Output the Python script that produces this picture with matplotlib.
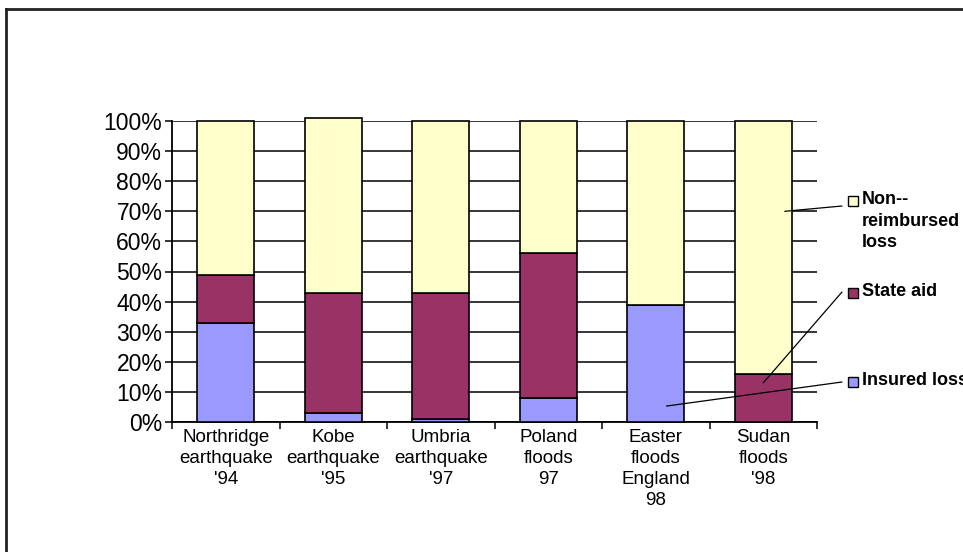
import matplotlib
matplotlib.use("Agg")
import matplotlib.pyplot as plt
import numpy as np
from matplotlib.lines import Line2D

categories = ["Northridge\nearthquake\n'94", "Kobe\nearthquake\n'95", "Umbria\nearthquake\n'97",
              "Poland\nfloods\n97", "Easter\nfloods\nEngland\n98", "Sudan\nfloods\n'98"]
insured = [33, 3, 1, 8, 39, 0]
state_aid = [16, 40, 42, 48, 0, 16]
non_reimbursed = [51, 58, 57, 44, 61, 84]
series_names = ["Insured loss", "State aid", "Non--\nreimbursed\nloss"]
colors = ["#9999FF", "#993366", "#FFFFCC"]

plt.rcParams['font.family'] = ['Liberation Sans', 'DejaVu Sans']

W, H = 963, 552
fig = plt.figure(figsize=(W / 100, H / 100), dpi=100)
ax = fig.add_axes([172 / W, 1 - 422 / H, (817 - 172) / W, (422 - 121) / H])

x = np.arange(len(categories))
ins = np.array(insured) / 100
sa = np.array(state_aid) / 100
nr = np.array(non_reimbursed) / 100
bw = 0.53
ax.bar(x, ins, bw, color=colors[0], edgecolor='black', linewidth=1.2, zorder=3, clip_on=False)
ax.bar(x, sa, bw, bottom=ins, color=colors[1], edgecolor='black', linewidth=1.2, zorder=3, clip_on=False)
ax.bar(x, nr, bw, bottom=ins + sa, color=colors[2], edgecolor='black', linewidth=1.2, zorder=3, clip_on=False)

ax.set_xlim(-0.5, len(categories) - 0.5)
ax.set_ylim(0, 1)
yt = np.arange(0, 1.01, 0.1)
ax.set_yticks(yt)
ax.set_yticklabels([f"{int(round(v * 100))}%" for v in yt], fontsize=16.5, color='#111111')
ax.yaxis.grid(True, color='black', linewidth=1.1, zorder=1)
ax.set_axisbelow(True)
ax.tick_params(axis='y', direction='out', length=5, width=1.1, pad=2, colors='black')

ax.set_xticks(x)
ax.set_xticklabels(categories, fontsize=13.5, linespacing=1.3)
ax.set_xticks(np.arange(-0.5, len(categories)), minor=True)
ax.tick_params(axis='x', which='major', length=0, pad=5)
ax.tick_params(axis='x', which='minor', direction='out', length=5, width=1.1)

for s in ['top', 'right']:
    ax.spines[s].set_visible(False)
for s in ['left', 'bottom']:
    ax.spines[s].set_linewidth(1.3)

# Legend (Excel-style)
leg_items = [(series_names[2], colors[2], 201), (series_names[1], colors[1], 293), (series_names[0], colors[0], 382)]
for name, col, yc in leg_items:
    fig.patches.append(plt.Rectangle((848 / W, 1 - (yc + 5) / H), 10 / W, 10 / H,
                                     facecolor=col, edgecolor='black', linewidth=1,
                                     transform=fig.transFigure, figure=fig))
    fig.text(862 / W, 1 - (yc - 10) / H, name, fontsize=13, fontweight='bold',
             va='top', ha='left', linespacing=1.35)

# Leader lines from legend to bars
leaders = [((5.2, 0.70), (842, 206)), ((5.0, 0.13), (842, 292)), ((4.1, 0.053), (842, 382))]
for (xd, yd), (px, py) in leaders:
    ax.annotate('', xy=(xd, yd), xycoords='data',
                xytext=(px / W, 1 - py / H), textcoords='figure fraction',
                arrowprops=dict(arrowstyle='-', color='black', lw=0.9,
                                shrinkA=0, shrinkB=0), zorder=5, annotation_clip=False)

# Outer chart frame (left and top edges)
fig.add_artist(Line2D([5.5 / W, 5.5 / W], [0, 1 - 8.5 / H], color='#222222', linewidth=2, transform=fig.transFigure))
fig.add_artist(Line2D([5.5 / W, 1], [1 - 8.5 / H, 1 - 8.5 / H], color='#222222', linewidth=2, transform=fig.transFigure))

fig.savefig("out.png", dpi=100, facecolor='white')
